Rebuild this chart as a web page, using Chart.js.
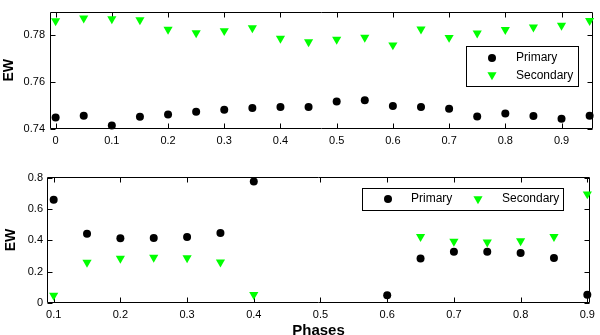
<!DOCTYPE html>
<html><head><meta charset="utf-8">
<script src="https://cdn.jsdelivr.net/npm/chart.js@4/dist/chart.umd.min.js"></script>
<style>
html,body{margin:0;padding:0;background:#fff;overflow:hidden;width:600px;height:335px;}
#w1{position:absolute;left:0;top:0;width:600px;height:150px;}
#w2{position:absolute;left:0;top:150px;width:600px;height:190px;}
canvas{display:block;}
</style></head><body>
<div id="w1"><canvas id="c1" width="600" height="150"></canvas></div>
<div id="w2"><canvas id="c2" width="600" height="190"></canvas></div>
<script>
// ---- Top panel data ----
const topPhases = [0, 0.05, 0.1, 0.15, 0.2, 0.25, 0.3, 0.35, 0.4, 0.45, 0.5, 0.55, 0.6, 0.65, 0.7, 0.75, 0.8, 0.85, 0.9, 0.95];
const topPrimary = [0.7449, 0.7457, 0.7415, 0.7452, 0.7462, 0.7474, 0.7482, 0.7490, 0.7494, 0.7494, 0.7518, 0.7523, 0.7498, 0.7494, 0.7487, 0.7453, 0.7466, 0.7456, 0.7444, 0.7457];
const topSecondary = [0.7862, 0.7874, 0.7871, 0.7866, 0.7826, 0.7811, 0.7820, 0.7832, 0.7787, 0.7772, 0.7783, 0.7792, 0.7759, 0.7827, 0.7791, 0.7810, 0.7825, 0.7835, 0.7843, 0.7863];
const topXTicks = [0, 0.1, 0.2, 0.3, 0.4, 0.5, 0.6, 0.7, 0.8, 0.9];
const topYTicks = [0.74, 0.76, 0.78];

// ---- Bottom panel data ----
const botPhases = [0.1, 0.15, 0.2, 0.25, 0.3, 0.35, 0.4, 0.6, 0.65, 0.7, 0.75, 0.8, 0.85, 0.9];
const botPrimary = [0.660, 0.442, 0.414, 0.416, 0.422, 0.448, 0.776, 0.050, 0.285, 0.328, 0.328, 0.320, 0.288, 0.052];
const botSecondary = [0.049, 0.259, 0.285, 0.291, 0.288, 0.261, 0.053, null, 0.424, 0.394, 0.388, 0.396, 0.424, 0.696];
const botXTicks = [0.1, 0.2, 0.3, 0.4, 0.5, 0.6, 0.7, 0.8, 0.9];
const botYTicks = [0, 0.2, 0.4, 0.6, 0.8];

const seriesNames = ['Primary', 'Secondary'];
const GREEN = '#00ff00';
const FONT = 'Liberation Sans, Arial, Helvetica, sans-serif';

function pts(xs, ys) {
  const out = [];
  xs.forEach((x, i) => { if (ys[i] !== null) out.push({x: x, y: ys[i]}); });
  return out;
}
function fmt(v) { return String(+Number(v).toFixed(2)); }

function drawMarker(ctx, shape, color, r, x, y) {
  ctx.fillStyle = color;
  ctx.beginPath();
  if (shape === 'circle') {
    ctx.arc(x, y, r, 0, Math.PI * 2);
  } else {
    ctx.moveTo(x, y + r);
    ctx.lineTo(x - r * 0.866, y - r / 2);
    ctx.lineTo(x + r * 0.866, y - r / 2);
    ctx.closePath();
  }
  ctx.fill();
}

const framePlugin = {
  id: 'frame',
  beforeDatasetsDraw(chart) {
    const {ctx, chartArea: a, scales} = chart;
    ctx.save();
    ctx.strokeStyle = '#000';
    ctx.lineWidth = 1;
    const L = Math.round(a.left) + 0.5, R = Math.round(a.right) - 0.5;
    const T = Math.round(a.top) + 0.5, B = Math.round(a.bottom) - 0.5;
    ctx.beginPath();
    ctx.rect(L, T, R - L, B - T);
    const tl = 5;
    scales.x.ticks.forEach(t => {
      const px = Math.round(scales.x.getPixelForValue(t.value)) + 0.5;
      ctx.moveTo(px, B); ctx.lineTo(px, B - tl);
      ctx.moveTo(px, T); ctx.lineTo(px, T + tl);
    });
    scales.y.ticks.forEach(t => {
      const py = Math.round(scales.y.getPixelForValue(t.value)) + 0.5;
      ctx.moveTo(L, py); ctx.lineTo(L + tl, py);
      ctx.moveTo(R, py); ctx.lineTo(R - tl, py);
    });
    ctx.stroke();
    ctx.restore();
  },
  afterDraw(chart, args, opts) {
    const lg = opts.legend;
    if (!lg) return;
    const ctx = chart.ctx;
    ctx.save();
    ctx.fillStyle = '#fff';
    ctx.fillRect(lg.box[0], lg.box[1], lg.box[2], lg.box[3]);
    ctx.strokeStyle = '#000';
    ctx.lineWidth = 1;
    ctx.strokeRect(lg.box[0] + 0.5, lg.box[1] + 0.5, lg.box[2], lg.box[3]);
    chart.data.datasets.forEach((ds, i) => {
      const it = lg.items[i];
      drawMarker(ctx, ds.pointStyle === 'circle' ? 'circle' : 'tri', ds.backgroundColor, ds.pointRadius, it.mx, it.my);
      ctx.fillStyle = '#000';
      ctx.font = '12px ' + FONT;
      ctx.textAlign = 'left';
      ctx.textBaseline = 'middle';
      ctx.fillText(ds.label, it.tx, it.ty);
    });
    ctx.restore();
  }
};

function makeChart(id, cfg) {
  return new Chart(document.getElementById(id), {
    type: 'scatter',
    data: {
      datasets: [
        {label: seriesNames[0], data: pts(cfg.xs, cfg.p), pointStyle: 'circle', pointRadius: cfg.cr, backgroundColor: '#000', borderWidth: 0, clip: false},
        {label: seriesNames[1], data: pts(cfg.xs, cfg.s), pointStyle: 'triangle', rotation: 180, pointRadius: 5.3, backgroundColor: GREEN, borderWidth: 0, clip: false}
      ]
    },
    options: {
      responsive: false,
      animation: false,
      events: [],
      layout: {padding: cfg.pad},
      plugins: {
        legend: {display: false},
        tooltip: {enabled: false},
        frame: {legend: cfg.legend}
      },
      scales: {
        x: {
          type: 'linear', min: cfg.xmin, max: cfg.xmax,
          afterBuildTicks: s => { s.ticks = cfg.xt.map(v => ({value: v})); },
          afterFit: s => { s.height = cfg.xh; },
          grid: {display: false, drawTicks: false},
          border: {display: false},
          ticks: {color: '#000', padding: cfg.xpad, font: {family: FONT, size: 11}, callback: v => fmt(v), maxRotation: 0, autoSkip: false},
          title: cfg.xtitle ? {display: true, text: cfg.xtitle, color: '#000', font: {family: FONT, size: 15, weight: 'bold'}, padding: {top: 0, bottom: 0}} : {display: false}
        },
        y: {
          type: 'linear', min: cfg.ymin, max: cfg.ymax,
          afterBuildTicks: s => { s.ticks = cfg.yt.map(v => ({value: v})); },
          afterFit: s => { s.width = cfg.yw; },
          grid: {display: false, drawTicks: false},
          border: {display: false},
          ticks: {color: '#000', padding: cfg.ypad, font: {family: FONT, size: 11}, callback: v => fmt(v)},
          title: {display: true, text: 'EW', color: '#000', font: {family: FONT, size: 14, weight: 'bold'}, padding: {top: cfg.ytp, bottom: 0}}
        }
      }
    },
    plugins: [framePlugin]
  });
}

makeChart('c1', {
  xs: topPhases, p: topPrimary, s: topSecondary, xt: topXTicks, yt: topYTicks,
  xmin: -0.01, xmax: 0.956, ymin: 0.74, ymax: 0.7902,
  pad: {left: 0, right: 7, top: 4, bottom: 0}, xh: 21, yw: 50, xpad: 5, ypad: 5, ytp: 1, cr: 4,
  legend: {box: [466, 46, 112, 40], items: [{mx: 492, my: 58, tx: 516, ty: 58}, {mx: 492, my: 75, tx: 516, ty: 76}]}
});
makeChart('c2', {
  xs: botPhases, p: botPrimary, s: botSecondary, xt: botXTicks, yt: botYTicks,
  xmin: 0.09, xmax: 0.904, ymin: 0, ymax: 0.805,
  pad: {left: 0, right: 7, top: 27, bottom: 0}, xh: 37, yw: 47, xpad: 5, ypad: 4, ytp: 3, cr: 4, xtitle: 'Phases',
  legend: {box: [362, 38, 201, 22], items: [{mx: 388, my: 49, tx: 411, ty: 49}, {mx: 478, my: 49, tx: 502, ty: 49}]}
});
</script>
</body></html>
